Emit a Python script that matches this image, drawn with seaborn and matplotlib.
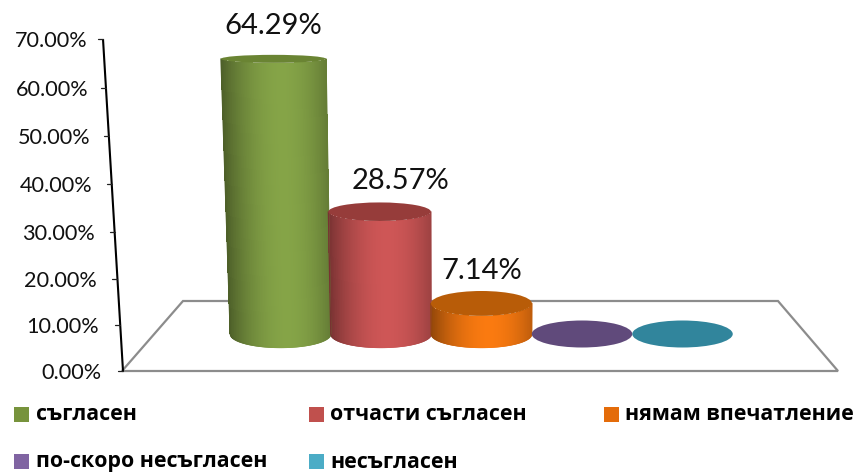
import numpy as np
import pandas as pd
import seaborn as sns
import matplotlib
matplotlib.use("Agg")
import matplotlib.pyplot as plt
from matplotlib.patches import Ellipse, Rectangle, Polygon
from matplotlib.collections import LineCollection
from matplotlib.colors import to_rgb
from matplotlib.ticker import NullLocator

categories = ["съгласен", "отчасти съгласен", "нямам впечатление", "по-скоро несъгласен", "несъгласен"]
values = [64.29, 28.57, 7.14, 0.0, 0.0]
value_labels = ["64.29%", "28.57%", "7.14%", "", ""]
axis_ticks = [0, 10, 20, 30, 40, 50, 60, 70]
axis_tick_labels = ["0.00%", "10.00%", "20.00%", "30.00%", "40.00%", "50.00%", "60.00%", "70.00%"]
swatch_colors = ["#77933C", "#C0504D", "#E46C0A", "#8064A2", "#4BACC6"]
body_colors = ["#85A447", "#CE5656", "#FA7A10", "#604A7B", "#31859C"]
top_colors = ["#6A8433", "#963C3A", "#B85C08", "#604A7B", "#31859C"]

W, H = 861, 472
sns.set_theme(style="white")
plt.rcParams["font.family"] = ["Lato", "Noto Sans", "DejaVu Sans"]
LEGEND_FONT = ["Open Sans", "DejaVu Sans"]

fig = plt.figure(figsize=(W / 100, H / 100), dpi=100)
ax = fig.add_axes([0, 0, 1, 1])

df = pd.DataFrame({"cat": categories, "val": values})
sns.barplot(data=df, x="cat", y="val", hue="cat", palette=swatch_colors, width=1.0,
            dodge=False, legend=False, ax=ax, linewidth=0, order=categories)

# main axes in plot units: 100.5 px per category, 4.28 px per percent
X0, SX = 280.5, 100.5
Y0, SY = 334.0, 4.28
xlim = ((0 - X0) / SX, (W - X0) / SX)
ylim = ((Y0 - H) / SY, (Y0 - 0) / SY)
ax.set_xlim(*xlim)
ax.set_ylim(*ylim)
ax.set_axis_off()

# numeric overlay with identical limits for the cylinder shading
ov = fig.add_axes([0, 0, 1, 1])
ov.set_xlim(*xlim)
ov.set_ylim(*ylim)
ov.set_axis_off()
ov.patch.set_visible(False)

px = lambda x: (x - X0) / SX
py = lambda y: (Y0 - y) / SY

# floor of the 3D chart
floor = Polygon([(px(122), py(371)), (px(183), py(301)), (px(778), py(301)), (px(838), py(371))],
                closed=True, fill=False, edgecolor="#8C8C8C", linewidth=1.6, zorder=0.5)
ax.add_patch(floor)


def shade(col, t):
    # light peak slightly right of the centre, dark rims
    c = np.array(to_rgb(col))
    u = (t - 0.15) / 1.15
    k = np.clip(1 - 0.42 * np.abs(u) ** 1.9, 0, 1)
    return np.clip(c * k, 0, 1)


label_offsets = [(0, 24), (15, 22), (0, 23.5), (0, 0), (0, 0)]
bars = [p for p in ax.patches if isinstance(p, Rectangle)]
bars = sorted(bars, key=lambda r: r.get_x())
for i, (bar, val) in enumerate(zip(bars, values)):
    c = bar.get_x() + bar.get_width() / 2
    hw0 = bar.get_width() / 2
    v = bar.get_height()
    hh0 = 13.5 / SY
    hh1 = (13.5 - v * 9.5 / 64.29) / SY
    hw1 = hw0 * (1 + 0.045 * v / 64.29)
    shift = -0.0017 * v ** 2 / SX
    ct = c + shift
    if v <= 0:
        bar.set_visible(False)
        ov.add_patch(Ellipse((c, 0), 2 * hw0, 2 * hh0, facecolor=top_colors[i], edgecolor="none", zorder=3))
        continue
    t = np.linspace(-1, 1, 161)
    arc = np.sqrt(1 - t ** 2)
    xb, yb = c + hw0 * t, -hh0 * arc
    xt, yt = ct + hw1 * t, v - hh1 * arc
    outline = np.vstack([np.column_stack([xb, yb]), np.column_stack([xt, yt])[::-1]])
    clip = Polygon(outline, closed=True, transform=ax.transData)
    bar.set_y(-hh0)
    bar.set_height(v + hh0)
    bar.set_clip_path(clip)
    Xm = np.column_stack([xb, xt])
    Ym = np.column_stack([yb, yt])
    tm = (t[:-1] + t[1:]) / 2
    rgb = np.array([shade(body_colors[i], q) for q in tm])
    ov.pcolormesh(Xm, Ym, rgb[:, None, :], shading="flat", zorder=2.5, antialiased=False, linewidth=0)
    # smooth outline: sides and lower arc stroked in the local shade
    arc_segs = [[(xb[j], yb[j]), (xb[j + 1], yb[j + 1])] for j in range(len(tm))]
    ov.add_collection(LineCollection(arc_segs, colors=rgb, linewidths=0.9, zorder=2.6, capstyle="round"))
    ov.plot([xb[0], xt[0]], [yb[0], yt[0]], color=rgb[0], linewidth=0.9, zorder=2.6)
    ov.plot([xb[-1], xt[-1]], [yb[-1], yt[-1]], color=rgb[-1], linewidth=0.9, zorder=2.6)
    ov.add_patch(Ellipse((ct, v), 2 * hw1, 2 * hh1, facecolor=top_colors[i], edgecolor="none", zorder=3))
    ov.annotate(value_labels[i], (ct, v), xytext=label_offsets[i], textcoords="offset points",
                ha="center", va="center", fontsize=21, color="#111111", zorder=4)
ov.set_xlim(*xlim)
ov.set_ylim(*ylim)

# value axis, slanted; spacing grows slightly towards the top (perspective)
A = 0.00052
fwd = lambda y: np.asarray(y, dtype=float) + A * np.asarray(y, dtype=float) ** 2
inv = lambda p: (-1 + np.sqrt(np.maximum(1 + 4 * A * np.asarray(p, dtype=float), 0))) / (2 * A)
ax2 = fig.add_axes([103 / W, (H - 371) / H, 20 / W, (371 - 39) / H])
ax2.patch.set_visible(False)
ax2.set_yscale("function", functions=(fwd, inv))
ax2.set_ylim(0, 70)
ax2.set_xlim(0, 1)
ax2.set_xticks([])
ax2.set_yticks(axis_ticks)
ax2.set_yticklabels(axis_tick_labels, fontsize=15.6, color="#111111")
ax2.yaxis.set_minor_locator(NullLocator())
for s in ax2.spines.values():
    s.set_visible(False)
pads = [-7, -4, -2, 0, 2, 4, 6, 7]
for tk, p in zip(ax2.yaxis.get_major_ticks(), pads):
    tk.set_pad(p * 0.72)
    tk.tick1line.set_visible(False)
ax2.plot([0, 1], [1, 0], transform=ax2.transAxes, color="black", linewidth=1.5, clip_on=False,
         solid_capstyle="butt")
tr = ax2.get_yaxis_transform()
for tv in axis_ticks:
    xf = 1 - float(fwd(tv)) / float(fwd(70))
    ax2.plot([xf - 0.25, xf], [tv, tv], transform=tr, color="#222222", linewidth=0.9, clip_on=False)

# legend laid out in the figure
legend_pos = [(14, 407, 36), (309, 407, 330), (604, 407, 625), (14, 454, 36), (309, 454, 330)]
for name, col, (sx, sy, tx) in zip(categories, swatch_colors, legend_pos):
    fig.patches.append(Rectangle((sx / W, 1 - (sy + 15) / H), 15 / W, 15 / H, transform=fig.transFigure,
                                 facecolor=col, edgecolor="none", figure=fig))
    fig.text(tx / W, 1 - (sy + 8) / H, name, fontsize=15.4, fontweight="bold", family=LEGEND_FONT,
             ha="left", va="center", color="black")

fig.savefig("out.png", dpi=100, facecolor="white")
